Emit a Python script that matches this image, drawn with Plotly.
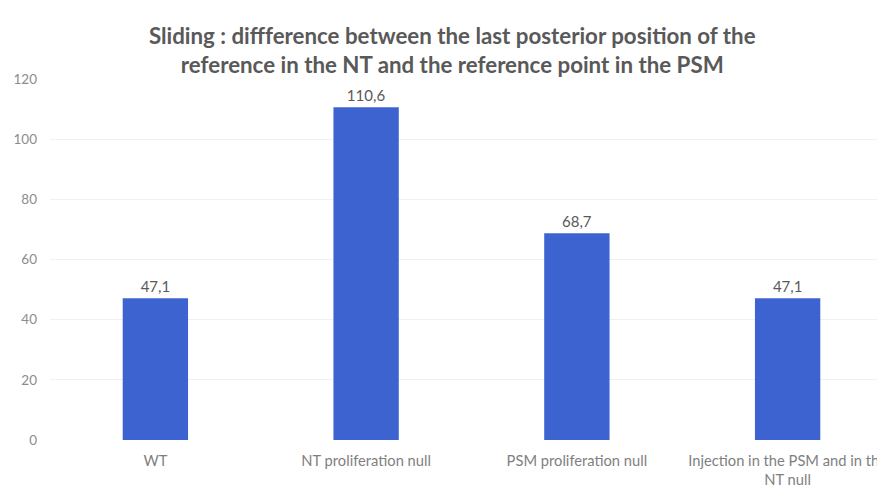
import plotly.graph_objects as go

categories = ["WT", "NT proliferation null", "PSM proliferation null", "Injection in the PSM and in the<br>NT null"]
values = [47.1, 110.6, 68.7, 47.1]
labels = ["47,1", "110,6", "68,7", "47,1"]
title = "<b>Sliding : diffference between the last posterior position of the<br>reference in the NT and the reference point in the PSM</b>"

fig = go.Figure(go.Bar(
    x=categories, y=values, text=labels, textposition="outside",
    textfont=dict(color="#595959", size=15, family="Lato"),
    marker=dict(color="#3D63D0", line=dict(width=0)),
    cliponaxis=False,
))
fig.update_layout(
    width=885, height=502,
    margin=dict(l=42, r=0, t=71, b=70, autoexpand=False),
    paper_bgcolor="white", plot_bgcolor="white",
    bargap=0.69,
    showlegend=False,
    title=dict(text=title, x=0.502, xanchor="center", y=0.929, yanchor="top",
               font=dict(family="Lato", size=22.3, color="#595959")),
    xaxis=dict(range=[-0.5, 3.5], showgrid=False, showline=False, ticks="",
               automargin=False, ticklabelstandoff=10,
               tickfont=dict(family="Lato", size=14.7, color="#7f7f7f")),
    yaxis=dict(range=[0, 120], dtick=20, showgrid=True, gridcolor="#f0f0f0",
               zeroline=False, showline=False, ticks="", automargin=False,
               ticklabelstandoff=12,
               tickfont=dict(family="Lato", size=13.5, color="#8c8c8c")),
)
fig.write_html("out.html")
